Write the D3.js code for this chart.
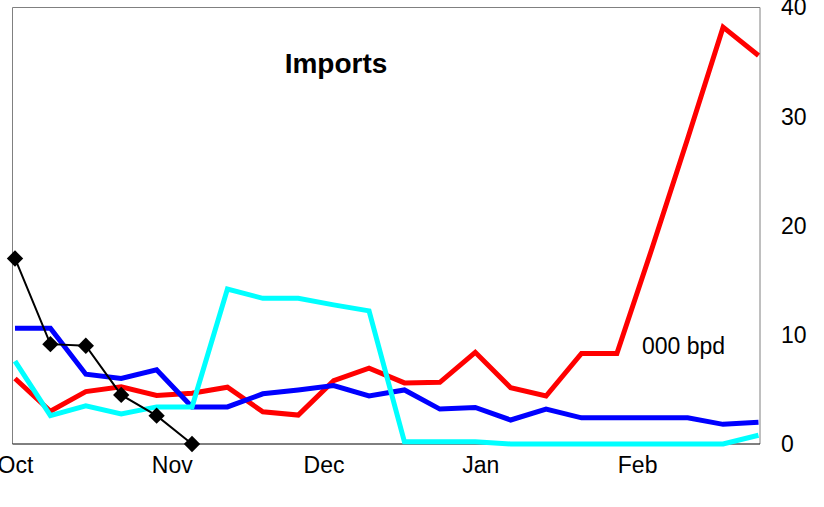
<!DOCTYPE html>
<html>
<head>
<meta charset="utf-8">
<script src="https://cdn.jsdelivr.net/npm/d3@7"></script>
<style>
  body { margin: 0; background: #fff; }
  text { font-family: "Liberation Sans", Arial, sans-serif; }
</style>
</head>
<body>
<div id="chart"></div>
<script>
// Weekly observations
var weeks = ["2002-10-01", "2002-10-08", "2002-10-15", "2002-10-22", "2002-10-29",
  "2002-11-05", "2002-11-12", "2002-11-19", "2002-11-26", "2002-12-03",
  "2002-12-10", "2002-12-17", "2002-12-24", "2002-12-31", "2003-01-07",
  "2003-01-14", "2003-01-21", "2003-01-28", "2003-02-04", "2003-02-11",
  "2003-02-18", "2003-02-25"];

var monthTicks = ["2002-10-01", "2002-11-01", "2002-12-01", "2003-01-01", "2003-02-01"];
var yTicks = [0, 10, 20, 30, 40];

var redSeries = [6.0, 3.0, 4.8, 5.25, 4.45, 4.65, 5.2, 2.95, 2.65, 5.8, 6.95,
  5.6, 5.65, 8.4, 5.15, 4.4, 8.3, 8.3, 18.0, 28.0, 38.2, 35.6];
var blueSeries = [10.6, 10.6, 6.4, 6.0, 6.8, 3.4, 3.4, 4.6, 4.95, 5.35, 4.4,
  4.95, 3.2, 3.35, 2.2, 3.2, 2.4, 2.4, 2.4, 2.4, 1.8, 2.0];
var cyanSeries = [7.6, 2.6, 3.5, 2.75, 3.4, 3.4, 14.2, 13.35, 13.35, 12.75, 12.2,
  0.2, 0.2, 0.2, 0, 0, 0, 0, 0, 0, 0, 0.8];
var blackSeries = [17.0, 9.15, 9.0, 4.5, 2.6, 0];

var width = 824;
var height = 507;
var box = { left: 12.5, right: 760, top: 7.5, bottom: 444 };

var parse = d3.timeParse("%Y-%m-%d");
var dates = weeks.map(parse);

var svg = d3.select("#chart")
  .append("svg")
  .attr("width", width)
  .attr("height", height);

var xScale = d3.scaleTime()
  .domain([dates[0], dates[dates.length - 1]])
  .range([15, 758.5]);

var yScale = d3.scaleLinear()
  .domain([0, 40])
  .range([box.bottom, box.top]);

svg.append("clipPath")
  .attr("id", "plotClip")
  .append("rect")
  .attr("x", box.left)
  .attr("y", box.top - 3)
  .attr("width", box.right - box.left)
  .attr("height", box.bottom - box.top + 10);

// frame: grey left/top/right, black baseline
svg.append("path")
  .attr("d", "M" + box.left + "," + box.bottom + "V" + box.top + "H" + box.right + "V" + box.bottom)
  .attr("fill", "none")
  .attr("stroke", "#808080")
  .attr("stroke-width", 1);

svg.append("line")
  .attr("x1", box.left)
  .attr("x2", box.right)
  .attr("y1", box.bottom)
  .attr("y2", box.bottom)
  .attr("stroke", "#000")
  .attr("stroke-width", 1);

// Month labels
var xAxis = d3.axisBottom(xScale)
  .tickValues(monthTicks.map(parse))
  .tickFormat(d3.timeFormat("%b"))
  .tickSize(0);

var gx = svg.append("g")
  .attr("transform", "translate(0," + box.bottom + ")")
  .call(xAxis);
gx.select(".domain").remove();
gx.selectAll("text")
  .attr("y", 13)
  .attr("dy", "0.71em")
  .attr("font-size", 23)
  .attr("font-family", "Liberation Sans, Arial, sans-serif")
  .attr("fill", "#000");

// Right value labels
var yAxis = d3.axisRight(yScale)
  .tickValues(yTicks)
  .tickSize(0);

var gy = svg.append("g")
  .attr("transform", "translate(" + box.right + ",0)")
  .call(yAxis);
gy.select(".domain").remove();
gy.selectAll("text")
  .attr("x", 21)
  .attr("font-size", 23)
  .attr("font-family", "Liberation Sans, Arial, sans-serif")
  .attr("fill", "#000");

var line = d3.line()
  .x(function(d, i) { return xScale(dates[i]); })
  .y(function(d) { return yScale(d); });

var plot = svg.append("g").attr("clip-path", "url(#plotClip)");

var colored = [
  { values: redSeries, color: "#ff0000" },
  { values: blueSeries, color: "#0000ff" },
  { values: cyanSeries, color: "#00ffff" }
];

colored.forEach(function(s) {
  plot.append("path")
    .datum(s.values)
    .attr("d", line)
    .attr("fill", "none")
    .attr("stroke", s.color)
    .attr("stroke-width", 5)
    .attr("stroke-linejoin", "miter");
});

svg.append("path")
  .datum(blackSeries)
  .attr("d", line)
  .attr("fill", "none")
  .attr("stroke", "#000")
  .attr("stroke-width", 2);

svg.selectAll(".diamond")
  .data(blackSeries)
  .enter()
  .append("path")
  .attr("class", "diamond")
  .attr("d", d3.symbol().type(d3.symbolDiamond2).size(170))
  .attr("transform", function(d, i) {
    return "translate(" + xScale(dates[i]) + "," + yScale(d) + ")";
  })
  .attr("fill", "#000");

// Title and unit
svg.append("text")
  .attr("x", 336)
  .attr("y", 73)
  .attr("text-anchor", "middle")
  .attr("font-size", 28)
  .attr("font-weight", "bold")
  .text("Imports");

svg.append("text")
  .attr("x", 642)
  .attr("y", 354)
  .attr("font-size", 23)
  .text("000 bpd");
</script>
</body>
</html>
